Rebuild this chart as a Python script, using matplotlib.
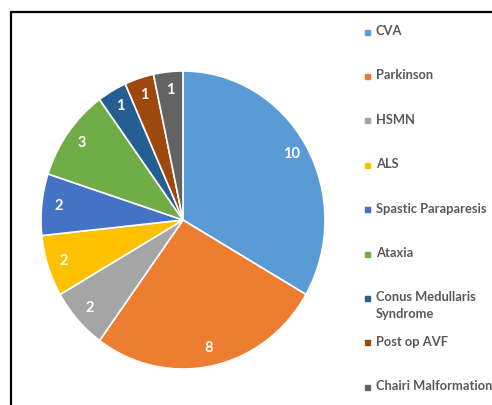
import matplotlib.pyplot as plt
from matplotlib.patches import Rectangle

categories = ['CVA', 'Parkinson', 'HSMN', 'ALS', 'Spastic Paraparesis', 'Ataxia',
              'Conus Medullaris\nSyndrome', 'Post op AVF', 'Chairi Malformation']
counts = [10, 8, 2, 2, 2, 3, 1, 1, 1]
colors = ['#5B9BD5', '#ED7D31', '#A5A5A5', '#FFC000', '#4472C4', '#70AD47',
          '#255E91', '#9E480E', '#636363']

plt.rcParams['font.family'] = ['Lato', 'DejaVu Sans']

W, H = 492, 405
fig = plt.figure(figsize=(W / 100, H / 100), dpi=100)

# pie area (slightly taller than wide, like the source image)
cx, cy, rx, ry = 183, 220, 142, 149
ax = fig.add_axes([(cx - rx) / W, (H - cy - ry) / H, 2 * rx / W, 2 * ry / H])
total = sum(counts)
wedges, texts, autotexts = ax.pie(
    counts, colors=colors, startangle=90, counterclock=False,
    autopct=lambda p: f'{round(p * total / 100)}', pctdistance=0.88,
    wedgeprops=dict(edgecolor='white', linewidth=1.2),
    textprops=dict(color='white', fontsize=10.5, fontweight='bold'))
ax.set_aspect('auto')
ax.set_xlim(-1, 1)
ax.set_ylim(-1, 1)
ax.axis('off')

# legend drawn by hand so rows keep equal spacing
y0, step = 32, 44.4
for i, (name, col) in enumerate(zip(categories, colors)):
    y = y0 + i * step
    fig.patches.append(Rectangle((365 / W, (H - y - 2.5) / H), 5 / W, 5 / H,
                                 transform=fig.transFigure, color=col))
    # first line centred on the marker, extra lines hang below
    fig.text(376 / W, (H - y + 7) / H, name, fontsize=9.3, fontweight='bold',
             color='#595959', va='top', ha='left', linespacing=1.45)

# outer frame (cut off at right and bottom)
fig.patches.append(Rectangle((11 / W, -0.2), 1.2, (H - 12) / H + 0.2,
                             transform=fig.transFigure, fill=False,
                             edgecolor='black', linewidth=1.6))

fig.savefig('out.png', dpi=100)
